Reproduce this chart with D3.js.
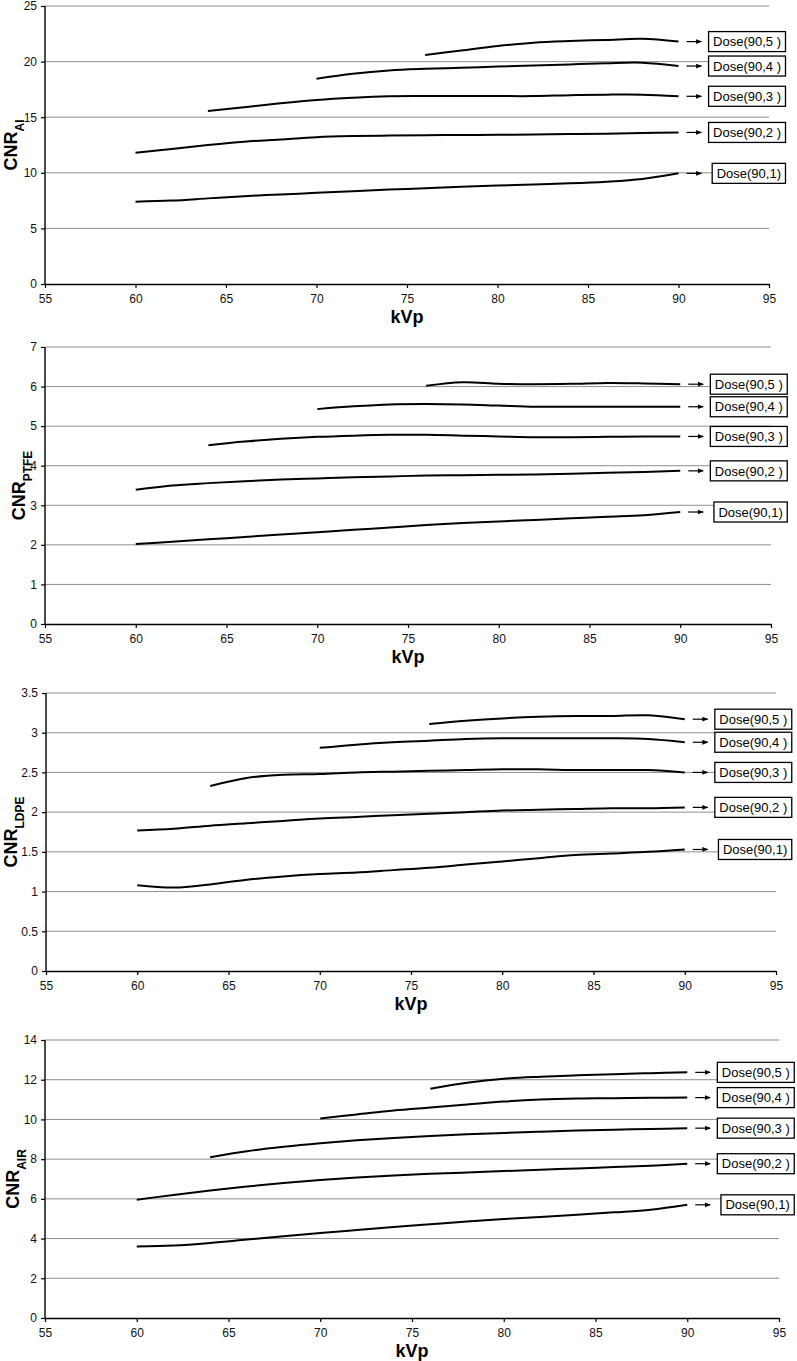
<!DOCTYPE html>
<html>
<head>
<meta charset="utf-8">
<script src="https://cdn.jsdelivr.net/npm/d3@7"></script>
<style>
  body { margin: 0; background: #fff; }
  svg { display: block; font-family: Arial, "Liberation Sans", sans-serif; }
</style>
</head>
<body>
<div id="chart"></div>
<script>
// kVp sampling and axis ticks
const kvp = [60, 62, 64, 66, 68, 70, 72, 74, 76, 78, 80, 82, 84, 86, 88, 90];
const seriesStart = [60, 60, 64, 70, 76];
const xTicks = [55, 60, 65, 70, 75, 80, 85, 90, 95];
const doseLabels = ["Dose(90,1)", "Dose(90,2 )", "Dose(90,3 )", "Dose(90,4 )", "Dose(90,5 )"];

// CNR Al
const alDose1 = [7.4, 7.5, 7.7, 7.9, 8.05, 8.2, 8.35, 8.5, 8.6, 8.75, 8.85, 8.95, 9.05, 9.2, 9.45, 9.95];
const alDose2 = [11.8, 12.15, 12.5, 12.8, 13.0, 13.2, 13.3, 13.35, 13.38, 13.4, 13.42, 13.45, 13.48, 13.52, 13.58, 13.63];
const alDose3 = [15.55, 15.9, 16.25, 16.55, 16.75, 16.88, 16.9, 16.9, 16.9, 16.9, 16.98, 17.03, 17.03, 16.88];
const alDose4 = [18.45, 18.9, 19.2, 19.35, 19.45, 19.55, 19.65, 19.75, 19.85, 19.9, 19.6];
const alDose5 = [20.6, 21.0, 21.4, 21.7, 21.85, 21.95, 22.05, 21.8];
const alTicks = [0, 5, 10, 15, 20, 25];

// CNR PTFE
const ptfeDose1 = [2.02, 2.08, 2.14, 2.2, 2.26, 2.32, 2.38, 2.44, 2.5, 2.55, 2.59, 2.63, 2.67, 2.71, 2.75, 2.83];
const ptfeDose2 = [3.39, 3.5, 3.56, 3.61, 3.65, 3.68, 3.71, 3.73, 3.75, 3.76, 3.77, 3.78, 3.8, 3.82, 3.84, 3.87];
const ptfeDose3 = [4.52, 4.61, 4.68, 4.73, 4.76, 4.78, 4.78, 4.76, 4.74, 4.72, 4.72, 4.73, 4.74, 4.74];
const ptfeDose4 = [5.43, 5.5, 5.55, 5.56, 5.55, 5.52, 5.49, 5.49, 5.49, 5.49, 5.49];
const ptfeDose5 = [6.02, 6.11, 6.07, 6.06, 6.07, 6.09, 6.08, 6.06];
const ptfeTicks = [0, 1, 2, 3, 4, 5, 6, 7];

// CNR LDPE
const ldpeDose1 = [1.08, 1.05, 1.09, 1.15, 1.19, 1.22, 1.24, 1.27, 1.3, 1.34, 1.38, 1.42, 1.46, 1.48, 1.5, 1.53];
const ldpeDose2 = [1.77, 1.79, 1.83, 1.86, 1.89, 1.92, 1.94, 1.96, 1.98, 2.0, 2.02, 2.03, 2.04, 2.05, 2.05, 2.06];
const ldpeDose3 = [2.33, 2.43, 2.47, 2.48, 2.5, 2.51, 2.52, 2.53, 2.54, 2.54, 2.53, 2.53, 2.53, 2.5];
const ldpeDose4 = [2.81, 2.85, 2.88, 2.9, 2.92, 2.93, 2.93, 2.93, 2.93, 2.92, 2.88];
const ldpeDose5 = [3.11, 3.15, 3.18, 3.2, 3.21, 3.21, 3.22, 3.17];
const ldpeTicks = [0, 0.5, 1, 1.5, 2, 2.5, 3, 3.5];

// CNR AIR
const airDose1 = [3.6, 3.65, 3.78, 3.95, 4.12, 4.28, 4.43, 4.58, 4.72, 4.86, 4.98, 5.09, 5.2, 5.32, 5.45, 5.7];
const airDose2 = [5.95, 6.2, 6.42, 6.62, 6.8, 6.95, 7.08, 7.18, 7.26, 7.33, 7.4, 7.47, 7.53, 7.6, 7.67, 7.77];
const airDose3 = [8.1, 8.4, 8.62, 8.8, 8.95, 9.07, 9.17, 9.25, 9.32, 9.38, 9.44, 9.48, 9.52, 9.56];
const airDose4 = [10.05, 10.25, 10.45, 10.6, 10.75, 10.9, 11.0, 11.05, 11.07, 11.09, 11.1];
const airDose5 = [11.55, 11.85, 12.05, 12.15, 12.22, 12.28, 12.33, 12.37];
const airTicks = [0, 2, 4, 6, 8, 10, 12, 14];

// panel layout (pixels)
const panels = [
  { sub: "Al",   series: [alDose1, alDose2, alDose3, alDose4, alDose5], ticks: alTicks,
    left: 45, right: 769, top: 6, bottom: 284, titleX: 17 },
  { sub: "PTFE", series: [ptfeDose1, ptfeDose2, ptfeDose3, ptfeDose4, ptfeDose5], ticks: ptfeTicks,
    left: 45, right: 771, top: 347, bottom: 624, titleX: 25 },
  { sub: "LDPE", series: [ldpeDose1, ldpeDose2, ldpeDose3, ldpeDose4, ldpeDose5], ticks: ldpeTicks,
    left: 46, right: 776, top: 693, bottom: 971, titleX: 17 },
  { sub: "AIR",  series: [airDose1, airDose2, airDose3, airDose4, airDose5], ticks: airTicks,
    left: 45, right: 779, top: 1040, bottom: 1318, titleX: 19 }
];

const W = 797, H = 1361;
const svg = d3.select("#chart").append("svg")
  .attr("width", W).attr("height", H);

svg.append("defs").append("marker")
  .attr("id", "arrowhead")
  .attr("viewBox", "0 0 10 10")
  .attr("refX", 9).attr("refY", 5)
  .attr("markerWidth", 5).attr("markerHeight", 5)
  .attr("orient", "auto")
  .append("path")
  .attr("d", "M0,1 L10,5 L0,9 Z")
  .attr("fill", "#000");

panels.forEach(p => {
  const x = d3.scaleLinear().domain([55, 95]).range([p.left, p.right]);
  const y = d3.scaleLinear().domain([0, d3.max(p.ticks)]).range([p.bottom, p.top]);
  const g = svg.append("g");

  // gridlines
  g.selectAll(".grid")
    .data(p.ticks.filter(t => t > 0))
    .join("line")
    .attr("x1", p.left).attr("x2", p.right)
    .attr("y1", d => y(d)).attr("y2", d => y(d))
    .attr("stroke", "#8f8f8f").attr("stroke-width", 1);

  // axes
  const yAxis = g.append("g")
    .attr("transform", `translate(${p.left},0)`)
    .call(d3.axisLeft(y).tickValues(p.ticks).tickSize(4).tickPadding(4).tickFormat(d => String(d)));
  const xAxis = g.append("g")
    .attr("transform", `translate(0,${p.bottom})`)
    .call(d3.axisBottom(x).tickValues(xTicks).tickSize(4).tickPadding(6).tickSizeOuter(0));
  [yAxis, xAxis].forEach(a => {
    a.select(".domain").attr("stroke", "#000").attr("stroke-width", 1.4);
    a.selectAll(".tick line").attr("stroke", "#000").attr("stroke-width", 1.2);
    a.selectAll("text").attr("fill", "#111").style("font-size", "12px")
      .style("font-family", "Arial, 'Liberation Sans', sans-serif");
  });
  yAxis.select(".domain").attr("d", `M0,${p.bottom}V${p.top}`);

  // curves
  const line = d3.line()
    .x(d => x(d[0])).y(d => y(d[1]))
    .curve(d3.curveCatmullRom.alpha(0.5));

  p.series.forEach((vals, i) => {
    const ks = kvp.filter(k => k >= seriesStart[i]);
    const pts = ks.map((k, j) => [k, vals[j]]);
    g.append("path")
      .datum(pts)
      .attr("d", line)
      .attr("fill", "none")
      .attr("stroke", "#000")
      .attr("stroke-width", 2);

    const last = pts[pts.length - 1];
    const ly = y(last[1]);
    const ex = x(last[0]);

    g.append("line")
      .attr("x1", ex + 8).attr("x2", ex + 23)
      .attr("y1", ly).attr("y2", ly)
      .attr("stroke", "#000").attr("stroke-width", 1.2)
      .attr("marker-end", "url(#arrowhead)");

    const lab = g.append("g");
    const txt = lab.append("text")
      .attr("y", ly)
      .attr("dy", "0.36em")
      .style("font-size", "13px")
      .attr("fill", "#000")
      .text(doseLabels[i]);
    const tw = txt.node().getComputedTextLength();
    const boxRight = ex + 107;
    const boxLeft = boxRight - tw - 9;
    txt.attr("x", boxLeft + 4.5);
    lab.insert("rect", "text")
      .attr("x", boxLeft).attr("y", ly - 10)
      .attr("width", tw + 9).attr("height", 20)
      .attr("fill", "#fff").attr("stroke", "#000").attr("stroke-width", 1.3);
  });

  // axis titles
  const ty = g.append("text")
    .attr("transform", `translate(${p.titleX},${(p.top + p.bottom) / 2}) rotate(-90)`)
    .attr("text-anchor", "middle")
    .style("font-weight", "bold")
    .style("font-size", "18px");
  ty.append("tspan").text("CNR");
  ty.append("tspan").attr("baseline-shift", "sub").style("font-size", "12px").text(p.sub);

  g.append("text")
    .attr("x", (p.left + p.right) / 2)
    .attr("y", p.bottom + 39)
    .attr("text-anchor", "middle")
    .style("font-weight", "bold")
    .style("font-size", "18px")
    .text("kVp");
});
</script>
</body>
</html>
